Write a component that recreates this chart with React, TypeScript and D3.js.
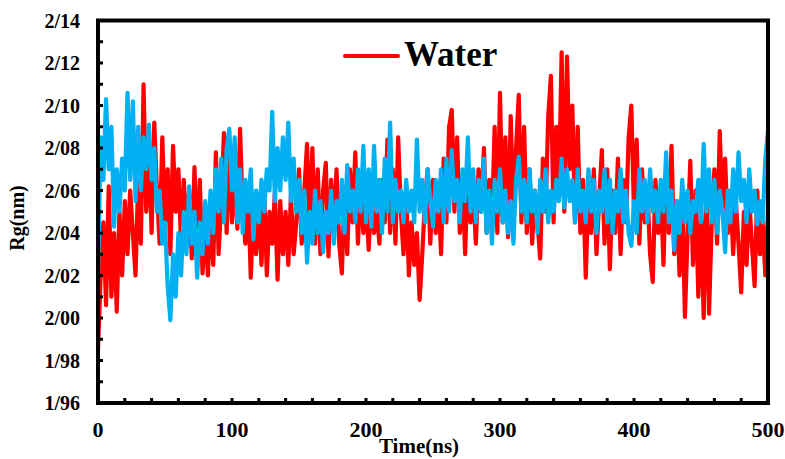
import React from "react";
import * as d3 from "d3";

const W = 785;
const H = 459;
const STEP = 2;

const yTickValues = [1.96, 1.98, 2.0, 2.02, 2.04, 2.06, 2.08, 2.1, 2.12, 2.14];
const xTickValues = [0, 100, 200, 300, 400, 500];

const waterRg = [
  1.985, 2.02, 2.045, 2.006, 2.062, 2.01, 2.04, 2.003, 2.05, 2.02,
  2.055, 2.03, 2.06, 2.04, 2.02, 2.065, 2.035, 2.11, 2.05, 2.08,
  2.04, 2.092, 2.06, 2.035, 2.085, 2.045, 2.07, 2.03, 2.081, 2.05,
  2.07, 2.035, 2.065, 2.04, 2.06, 2.028, 2.071, 2.03, 2.065, 2.021,
  2.045, 2.02, 2.05, 2.025, 2.078, 2.03, 2.055, 2.087, 2.04, 2.08,
  2.045, 2.07, 2.042, 2.089, 2.05, 2.035, 2.06, 2.019, 2.05, 2.03,
  2.055, 2.025, 2.06, 2.02, 2.05, 2.035, 2.059, 2.018, 2.055, 2.03,
  2.05, 2.025, 2.058, 2.03, 2.045, 2.07, 2.035, 2.06, 2.082, 2.04,
  2.08, 2.035, 2.07, 2.03, 2.06, 2.073, 2.029, 2.065, 2.04, 2.07,
  2.035, 2.021, 2.06, 2.03, 2.07, 2.045, 2.078, 2.035, 2.065, 2.04,
  2.055, 2.032, 2.06, 2.04, 2.05, 2.035, 2.065, 2.045, 2.084, 2.04,
  2.07, 2.035, 2.085, 2.05, 2.03, 2.06, 2.02, 2.045, 2.025, 2.04,
  2.0085, 2.03, 2.055, 2.07, 2.035, 2.065, 2.04, 2.06, 2.03, 2.075,
  2.045, 2.09, 2.098, 2.05, 2.085, 2.04, 2.065, 2.03, 2.07, 2.045,
  2.06, 2.035, 2.07, 2.05, 2.08, 2.04, 2.065, 2.045, 2.09, 2.04,
  2.106, 2.045, 2.085, 2.038, 2.095, 2.05, 2.08, 2.105, 2.045, 2.09,
  2.04, 2.07, 2.035, 2.06, 2.045, 2.028, 2.075, 2.05, 2.095, 2.114,
  2.045, 2.09, 2.06, 2.125, 2.05, 2.123, 2.07, 2.1, 2.045, 2.09,
  2.04, 2.065, 2.019, 2.06, 2.04, 2.07, 2.03, 2.055, 2.079, 2.035,
  2.07, 2.023, 2.06, 2.04, 2.075, 2.03, 2.065, 2.045, 2.085, 2.1,
  2.05, 2.084, 2.035, 2.07, 2.045, 2.06, 2.03, 2.017, 2.065, 2.04,
  2.06, 2.025, 2.07, 2.04, 2.081, 2.03, 2.055, 2.02, 2.06, 2.0005,
  2.04, 2.074, 2.025, 2.06, 2.01, 2.05, 2.0, 2.065, 2.002, 2.045,
  2.07, 2.035, 2.088, 2.05, 2.075, 2.04, 2.06, 2.03, 2.055, 2.035,
  2.012, 2.05, 2.025, 2.055, 2.035, 2.015, 2.06, 2.03, 2.045, 2.02,
  2.05,
];

const blueRg = [
  2.02, 2.085, 2.065, 2.103, 2.07, 2.09, 2.043, 2.07, 2.05, 2.075,
  2.06, 2.106, 2.065, 2.102, 2.055, 2.09, 2.06, 2.085, 2.07, 2.091,
  2.065, 2.08, 2.05, 2.06, 2.035, 2.045, 2.015, 1.999, 2.03, 2.01,
  2.04, 2.02, 2.05, 2.03, 2.062, 2.035, 2.05, 2.019, 2.045, 2.03,
  2.055, 2.035, 2.06, 2.04, 2.07, 2.05, 2.075, 2.045, 2.08, 2.089,
  2.06, 2.085, 2.045, 2.07, 2.04, 2.065, 2.05, 2.07, 2.037, 2.06,
  2.045, 2.065, 2.05, 2.07, 2.06, 2.097, 2.055, 2.08, 2.06, 2.085,
  2.065, 2.092, 2.055, 2.075, 2.05, 2.065, 2.04, 2.06, 2.026, 2.05,
  2.035, 2.06, 2.04, 2.055, 2.031, 2.05, 2.04, 2.06, 2.035, 2.055,
  2.045, 2.065, 2.04, 2.072, 2.05, 2.06, 2.045, 2.07, 2.05, 2.081,
  2.045, 2.07, 2.043, 2.081, 2.05, 2.065, 2.04, 2.075, 2.05, 2.092,
  2.045, 2.065, 2.05, 2.06, 2.045, 2.065, 2.05, 2.06, 2.045, 2.084,
  2.05, 2.065, 2.045, 2.07, 2.055, 2.043, 2.065, 2.05, 2.07, 2.045,
  2.075, 2.05, 2.079, 2.055, 2.065, 2.045, 2.07, 2.055, 2.085, 2.05,
  2.07, 2.045, 2.065, 2.05, 2.075, 2.04, 2.06, 2.035, 2.065, 2.05,
  2.07, 2.045, 2.06, 2.04, 2.055, 2.035, 2.065, 2.076, 2.05, 2.065,
  2.045, 2.07, 2.05, 2.06, 2.04, 2.065, 2.05, 2.07, 2.045, 2.06,
  2.05, 2.065, 2.055, 2.075, 2.052, 2.07, 2.055, 2.065, 2.045, 2.07,
  2.05, 2.06, 2.045, 2.07, 2.05, 2.065, 2.04, 2.06, 2.05, 2.07,
  2.045, 2.065, 2.04, 2.06, 2.05, 2.07, 2.045, 2.06, 2.04, 2.034,
  2.055, 2.04, 2.07, 2.05, 2.065, 2.045, 2.07, 2.05, 2.06, 2.045,
  2.065, 2.05, 2.078, 2.045, 2.06, 2.032, 2.055, 2.04, 2.065, 2.045,
  2.06, 2.04, 2.055, 2.05, 2.065, 2.045, 2.082, 2.05, 2.07, 2.045,
  2.065, 2.04, 2.06, 2.05, 2.031, 2.06, 2.045, 2.07, 2.05, 2.078,
  2.055, 2.065, 2.045, 2.07, 2.05, 2.06, 2.044, 2.055, 2.045, 2.075,
  2.088,
];

const legendLabel = "Water";
const xTitle = "Time(ns)";
const yTitle = "Rg(nm)";

const FONT = "'Liberation Serif', 'Times New Roman', serif";

export default function App() {
  const x = d3.scaleLinear().domain([0, 500]).range([98, 768]);
  const y = d3.scaleLinear().domain([1.96, 2.14]).range([403, 20.5]);

  const line = d3
    .line<number>()
    .x((_, i) => x(i * STEP))
    .y((d) => y(d));

  const yMinor = d3.range(1.97, 2.14, 0.01);
  const xMinor = d3.range(20, 500, 20);
  const fmt = (v: number) => d3.format(".2f")(v).replace(".", "/");

  return (
    <svg
      width={W}
      height={H}
      style={{ position: "absolute", left: 0, top: 0, background: "#fff" }}
      fontFamily={FONT}
      fontWeight="bold"
    >
      <rect x={0} y={0} width={W} height={H} fill="#fff" />
      <path d={line(waterRg) || ""} fill="none" stroke="#FF0000" strokeWidth={4.2} strokeLinejoin="round" strokeLinecap="round" />
      <path d={line(blueRg) || ""} fill="none" stroke="#00B0F0" strokeWidth={4.2} strokeLinejoin="round" strokeLinecap="round" />

      {yMinor.map((v, i) => (
        <line key={"yt" + i} x1={98} x2={103} y1={y(v)} y2={y(v)} stroke="#000" strokeWidth={3} />
      ))}
      {xMinor.map((v, i) => (
        <line key={"xt" + i} x1={x(v)} x2={x(v)} y1={403} y2={398} stroke="#000" strokeWidth={3} />
      ))}

      <rect x={98} y={20.5} width={670} height={382.5} fill="none" stroke="#000" strokeWidth={4} />

      {yTickValues.map((v, i) => (
        <text key={"yl" + i} x={80} y={y(v) + 7} textAnchor="end" fontSize={20}>
          {fmt(v)}
        </text>
      ))}
      {xTickValues.map((v, i) => (
        <text key={"xl" + i} x={x(v)} y={437} textAnchor="middle" fontSize={22}>
          {v}
        </text>
      ))}

      <text x={419} y={453} textAnchor="middle" fontSize={21}>
        {xTitle}
      </text>
      <text transform="translate(24,218) rotate(-90)" textAnchor="middle" fontSize={20}>
        {yTitle}
      </text>

      <line x1={345} x2={398} y1={56} y2={56} stroke="#FF0000" strokeWidth={4} strokeLinecap="round" />
      <text x={404} y={66} fontSize={35}>
        {legendLabel}
      </text>
    </svg>
  );
}
